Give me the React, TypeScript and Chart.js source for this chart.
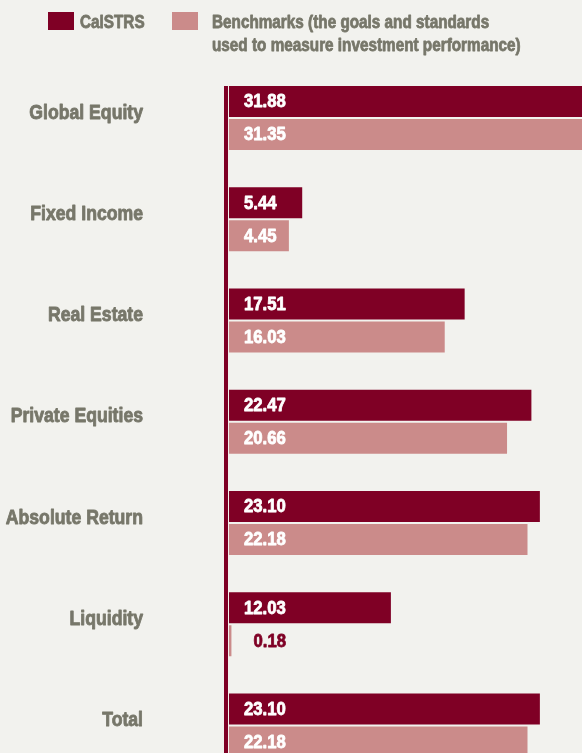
import React, { useEffect, useRef } from "react";
import { Chart, registerables } from "chart.js";

Chart.register(...registerables);

const categories = [
  "Global Equity",
  "Fixed Income",
  "Real Estate",
  "Private Equities",
  "Absolute Return",
  "Liquidity",
  "Total",
];
const calstrsValues = [31.88, 5.44, 17.51, 22.47, 23.1, 12.03, 23.1];
const benchmarkValues = [31.35, 4.45, 16.03, 20.66, 22.18, 0.18, 22.18];
const seriesNames = ["CalSTRS", "Benchmarks"];
const legendLabels = [
  ["CalSTRS"],
  ["Benchmarks (the goals and standards", "used to measure investment performance)"],
];

const DARK = "#7f0025";
const PINK = "#cb8b8a";
const TEXT = "#77776a";
const BG = "#f2f2ee";
const FONT = "'Liberation Sans', Arial, sans-serif";

function narrowText(
  ctx: CanvasRenderingContext2D,
  txt: string,
  x: number,
  y: number,
  sx: number,
  heavy: number
) {
  ctx.save();
  ctx.translate(x, y);
  ctx.scale(sx, 1);
  ctx.fillText(txt, 0, 0);
  if (heavy > 0) {
    ctx.strokeStyle = ctx.fillStyle as string;
    ctx.lineWidth = heavy;
    ctx.lineJoin = "round";
    ctx.strokeText(txt, 0, 0);
  }
  ctx.restore();
}

export default function App() {
  const ref = useRef<HTMLCanvasElement | null>(null);

  useEffect(() => {
    const canvas = ref.current;
    if (!canvas) return;

    const decor = {
      id: "decor",
      afterDraw(chart: any) {
        const ctx = chart.ctx as CanvasRenderingContext2D;
        const yScale = chart.scales.y;
        const area = chart.chartArea;
        ctx.save();
        // legend
        const boxes = [
          { x: 48, color: DARK, tx: 80 },
          { x: 172, color: PINK, tx: 212 },
        ];
        boxes.forEach((b, i) => {
          ctx.fillStyle = b.color;
          ctx.fillRect(b.x, 12, 26, 18);
          ctx.fillStyle = TEXT;
          ctx.font = `bold 18px ${FONT}`;
          ctx.textAlign = "left";
          ctx.textBaseline = "alphabetic";
          legendLabels[i].forEach((line, j) => {
            narrowText(ctx, line, b.tx, 28 + j * 23, 0.85, 0.8);
          });
        });
        // category labels
        ctx.font = `bold 21px ${FONT}`;
        ctx.fillStyle = TEXT;
        ctx.textAlign = "right";
        ctx.textBaseline = "middle";
        categories.forEach((c, i) => {
          narrowText(ctx, c, 143, yScale.getPixelForValue(i) - 5, 0.84, 0.9);
        });
        // axis line
        const firstMeta = chart.getDatasetMeta(0);
        const firstBar: any = firstMeta.data[0];
        const top = firstBar.y - firstBar.height / 2;
        ctx.fillStyle = DARK;
        ctx.fillRect(area.left - 5, top, 4, chart.height - top);
        // value labels
        ctx.font = `bold 18px ${FONT}`;
        ctx.textAlign = "left";
        ctx.textBaseline = "middle";
        chart.data.datasets.forEach((ds: any, di: number) => {
          const meta = chart.getDatasetMeta(di);
          meta.data.forEach((bar: any, i: number) => {
            const v = ds.data[i] as number;
            const txt = v.toFixed(2);
            const w = bar.x - bar.base;
            if (w < 50) {
              ctx.fillStyle = DARK;
              narrowText(ctx, txt, bar.x + 22, bar.y + 1, 0.93, 0.8);
            } else {
              ctx.fillStyle = "#ffffff";
              narrowText(ctx, txt, bar.base + 15, bar.y + 1, 0.93, 0.8);
            }
          });
        });
        ctx.restore();
      },
    };

    const chart = new Chart(canvas, {
      type: "bar",
      data: {
        labels: categories,
        datasets: [
          {
            label: seriesNames[0],
            data: calstrsValues,
            backgroundColor: DARK,
            borderWidth: 0,
            categoryPercentage: 0.652,
            barPercentage: 0.94,
          },
          {
            label: seriesNames[1],
            data: benchmarkValues,
            backgroundColor: PINK,
            borderWidth: 0,
            categoryPercentage: 0.652,
            barPercentage: 0.94,
          },
        ],
      },
      options: {
        indexAxis: "y",
        responsive: false,
        animation: false,
        devicePixelRatio: 1,
        layout: { padding: { left: 229, right: 0, top: 67.4, bottom: 0 } },
        plugins: {
          legend: { display: false },
          tooltip: { enabled: false },
        },
        scales: {
          x: { display: false, min: 0, max: 26.23 },
          y: { display: false, offset: true },
        },
      },
      plugins: [decor],
    });

    return () => chart.destroy();
  }, []);

  return (
    <div
      style={{
        position: "absolute",
        left: 0,
        top: 0,
        width: 582,
        height: 753,
        overflow: "hidden",
        background: BG,
      }}
    >
      <canvas ref={ref} width={582} height={776} style={{ display: "block" }} />
    </div>
  );
}
